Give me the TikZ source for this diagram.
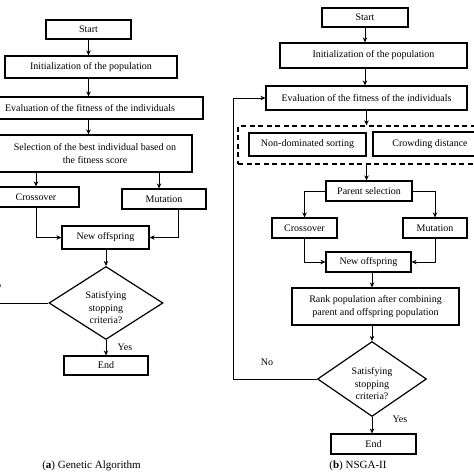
\documentclass[tikz,border=0pt]{standalone}
\usepackage{fontspec}
\setmainfont{Liberation Serif}
\usetikzlibrary{arrows.meta,shapes.geometric}
\begin{document}
\begin{tikzpicture}[x=1pt,y=-1pt,
  box/.style={draw,line width=1.2pt,inner sep=0pt,align=center,font=\fontsize{10}{13}\selectfont},
  dia/.style={draw,shape=diamond,line width=1.2pt,inner sep=0pt},
  txt/.style={inner sep=0pt,align=center,font=\fontsize{10}{12.5}\selectfont},
  arr/.style={-{Stealth[length=5pt,width=4.5pt]},line width=1pt},
  ln/.style={line width=1pt},
  dbox/.style={draw,dashed,dash pattern=on 5pt off 3.5pt,line width=1.3pt,inner sep=0pt},
  captext/.style={inner sep=0pt,font=\fontsize{11}{13}\selectfont}]
\useasboundingbox (0,0) rectangle (474,474);
\clip (0,0) rectangle (474,474);
% ---------- (a) Genetic Algorithm ----------
\node[box,minimum width=85pt,minimum height=19pt] (lstart) at (88.5,29.5) {Start};
\node[box,minimum width=172pt,minimum height=22pt] (linit) at (91,67) {Initialization of the population};
\node[box,minimum width=226pt,minimum height=22pt] (leval) at (90,108) {Evaluation of the fitness of the individuals};
\node[box,minimum width=194pt,minimum height=37pt] (lsel) at (95,153.5) {Selection of the best individual based on\\the fitness score};
\node[box,minimum width=86pt,minimum height=20pt] (lcross) at (36,197) {Crossover};
\node[box,minimum width=84pt,minimum height=20pt] (lmut) at (164,199) {Mutation};
\node[box,minimum width=87pt,minimum height=23pt] (loff) at (105.5,237.5) {New offspring};
\node[dia,minimum width=114pt,minimum height=73pt] (ldia) at (106,303) {};
\node[txt] (ldiat) at (106,308) {Satisfying\\stopping\\criteria?};
\node[box,minimum width=84pt,minimum height=19pt] (lend) at (106,365.5) {End};
\node[txt] (lyes) at (125,347) {Yes};
\node[txt] (lno) at (-5,285) {No};
\coordinate (lloop) at (-20,303);
\node[captext] (capa) at (91.5,466) {(\textbf{a}) Genetic Algorithm};

\draw[arr] (lstart.south) -- (linit.north -| lstart.south);
\draw[arr] (linit.south -| lstart.south) -- (leval.north -| lstart.south);
\draw[arr] (leval.south -| lstart.south) -- (lsel.north -| lstart.south);
\draw[arr] (lsel.south -| lcross.north) -- (lcross.north);
\draw[arr] ([xshift=-5pt]lsel.south -| lmut.north) -- ([xshift=-5pt]lmut.north);
\draw[arr] (lcross.south) |- (loff.west);
\draw[arr] ([xshift=14pt]lmut.south) |- (loff.east);
\draw[arr] (loff.south -| ldia.north) -- (ldia.north);
\draw[arr] (ldia.south) -- (lend.north);
\draw[ln] (ldia.west) -- (lloop);

% ---------- (b) NSGA-II ----------
\node[box,minimum width=86pt,minimum height=19pt] (rstart) at (365,17.5) {Start};
\node[box,minimum width=187pt,minimum height=25pt] (rinit) at (373.5,55.5) {Initialization of the population};
\node[box,minimum width=201pt,minimum height=24pt] (reval) at (366.5,98) {Evaluation of the fitness of the individuals};
\node[dbox,minimum width=257pt,minimum height=38pt] (rdash) at (366.5,145) {};
\node[box,minimum width=117pt,minimum height=23pt] (rnds) at (307.5,144.5) {Non-dominated sorting};
\node[box,minimum width=114pt,minimum height=24pt] (rcrowd) at (430,144) {Crowding distance};
\node[box,minimum width=86pt,minimum height=20pt] (rpar) at (369,191) {Parent selection};
\node[box,minimum width=65pt,minimum height=20pt] (rcross) at (304.5,228) {Crossover};
\node[box,minimum width=64pt,minimum height=20pt] (rmut) at (435,228) {Mutation};
\node[box,minimum width=85pt,minimum height=20pt] (roff) at (368.5,262) {New offspring};
\node[box,minimum width=167pt,minimum height=37pt] (rrank) at (375.5,306.5) {Rank population after combining\\parent and offspring population};
\node[dia,minimum width=109pt,minimum height=75pt] (rdia) at (372,379) {};
\node[txt] (rdiat) at (372,384) {Satisfying\\stopping\\criteria?};
\node[box,minimum width=85pt,minimum height=20pt] (rend) at (373.5,444) {End};
\node[txt] (rno) at (267,362) {No};
\node[txt] (ryes) at (400,419) {Yes};
\coordinate (rloop) at (233,379);
\node[captext] (capb) at (358,466) {(\textbf{b}) NSGA-II};

\draw[arr] (rstart.south) -- (rinit.north -| rstart.south);
\draw[arr] (rinit.south -| rstart.south) -- (reval.north -| rstart.south);
\draw[arr] (reval.south) -- (rdash.north -| reval.south);
\draw[arr] (rdash.south) -- (rpar.north -| rdash.south);
\draw[arr] (rpar.west) -| (rcross.north);
\draw[arr] (rpar.east) -| (rmut.north);
\draw[arr] (rcross.south) |- (roff.west);
\draw[arr] (rmut.south) |- (roff.east);
\draw[arr] (roff.south -| rdia.north) -- (rrank.north -| rdia.north);
\draw[arr] (rrank.south -| rdia.north) -- (rdia.north);
\draw[arr] (rdia.south) -- (rend.north -| rdia.south);
\draw[arr] (rdia.west) -- (rloop) |- (reval.west);
\end{tikzpicture}
\end{document}
